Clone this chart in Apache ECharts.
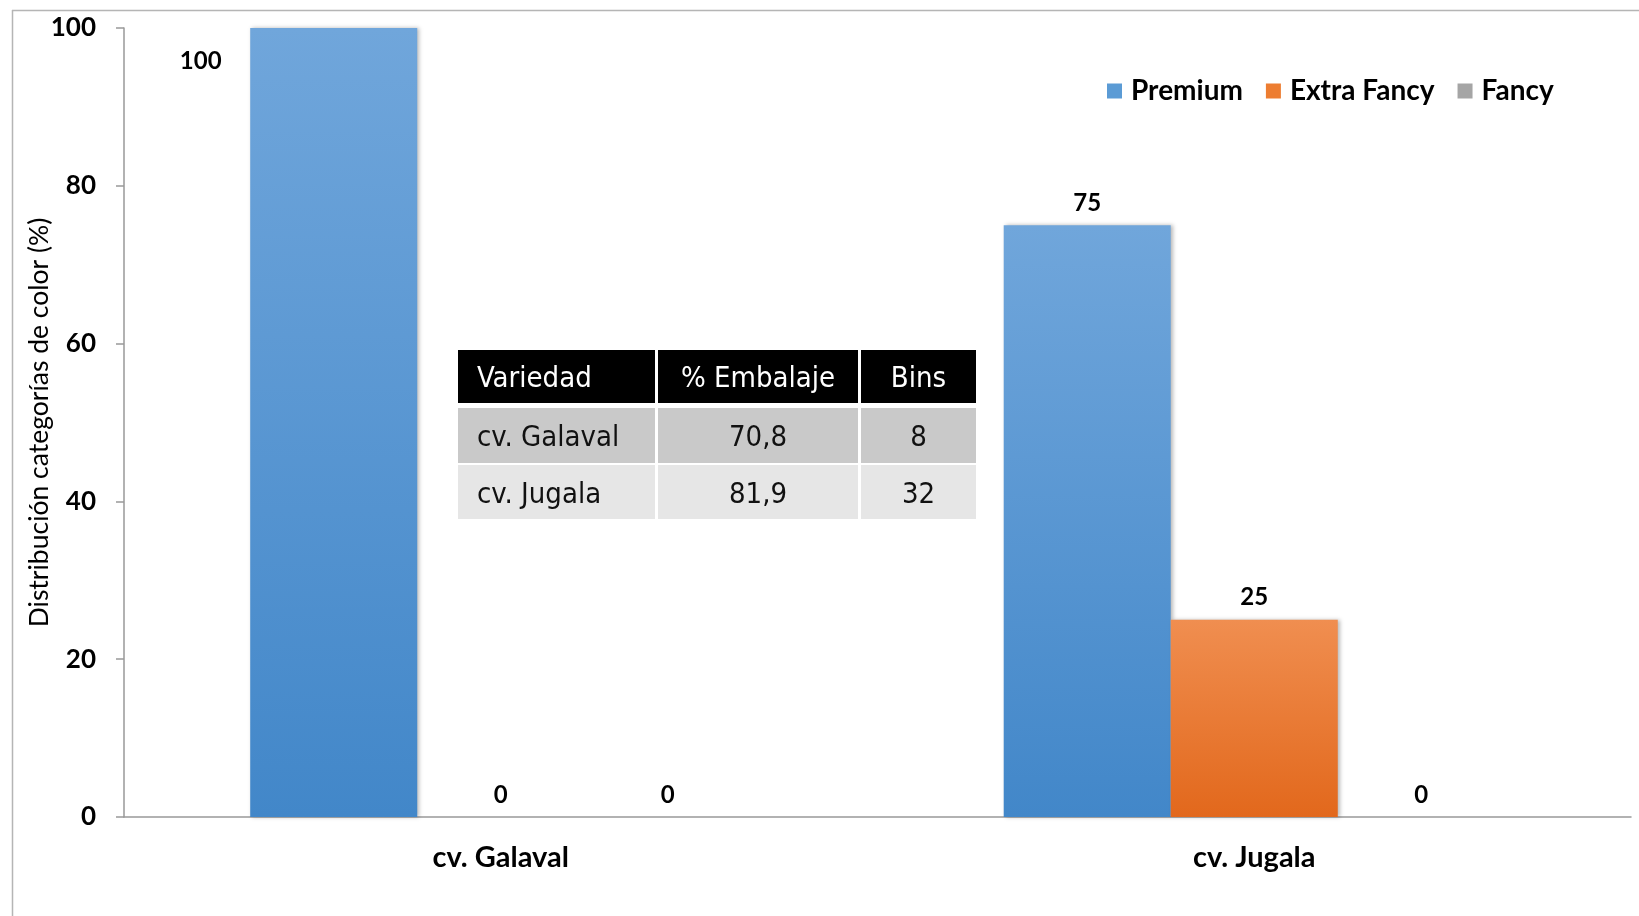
<!DOCTYPE html>
<html>
<head>
<meta charset="utf-8">
<script src="https://cdn.jsdelivr.net/npm/echarts@6/dist/echarts.min.js"></script>
<style>
html,body{margin:0;padding:0;background:#fff;}
#chart{width:1639px;height:916px;}
</style>
</head>
<body>
<div id="chart"></div>
<script>
// ---- data ----
const categories = ['cv. Galaval', 'cv. Jugala'];
const seriesNames = ['Premium', 'Extra Fancy', 'Fancy'];
const premium = [100, 75];
const extraFancy = [0, 25];
const fancy = [0, 0];
const yTicks = [0, 20, 40, 60, 80, 100];
const yAxisTitle = 'Distribución categorías de color (%)';
const tableHeader = ['Variedad', '% Embalaje', 'Bins'];
const tableRowGalaval = ['cv. Galaval', '70,8', '8'];
const tableRowJugala = ['cv. Jugala', '81,9', '32'];

// ---- chart ----
const chart = echarts.init(document.getElementById('chart'));
const FONT = 'Lato, "Open Sans", "Liberation Sans", sans-serif';
const TFONT = '"Liberation Sans Narrow", "DejaVu Sans Condensed", "Roboto", sans-serif';

function grad(top, bottom) {
  return new echarts.graphic.LinearGradient(0, 0, 0, 1, [
    {offset: 0, color: top}, {offset: 1, color: bottom}
  ]);
}
const colors = [grad('#70a6db', '#4287c9'), grad('#f08e50', '#e2681c'), grad('#b4b4b4', '#929292')];
const legendColors = ['#5b9bd5', '#ed7d31', '#a5a5a5'];

const labelStyle = {show: true, position: 'top', distance: 10, color: '#000', fontFamily: FONT, fontWeight: 'bold', fontSize: 24};
const shadow = {shadowColor: 'rgba(0,0,0,0.28)', shadowBlur: 4, shadowOffsetX: 2, shadowOffsetY: 0};

const seriesData = [
  premium.map((v, i) => i === 0 ? {value: v, label: {offset: [-133, 55]}} : v),
  extraFancy,
  fancy
];

// table graphics
const colX = [458, 658, 861, 979];
const rowY = [350, 408, 465, 521];
const rowFill = ['#000000', '#c9c9c9', '#e6e6e6'];
const rowText = ['#ffffff', '#111111', '#111111'];
const rows = [tableHeader, tableRowGalaval, tableRowJugala];
const tableGraphics = [];
rows.forEach((row, r) => {
  row.forEach((cell, c) => {
    const x0 = colX[c];
    const x1 = colX[c + 1] - 3;
    const y0 = rowY[r];
    const y1 = rowY[r + 1] - (r === 0 ? 5 : 2);
    tableGraphics.push({
      type: 'rect', shape: {x: x0, y: y0, width: x1 - x0, height: y1 - y0},
      style: {fill: rowFill[r]}, z: 10
    });
    tableGraphics.push({
      type: 'text', z: 11,
      x: c === 0 ? x0 + 19 : (x0 + x1) / 2,
      y: (y0 + y1) / 2 + 3,
      style: {text: cell, fill: rowText[r], font: '29px ' + TFONT,
        align: c === 0 ? 'left' : 'center', verticalAlign: 'middle'}
    });
  });
});

const option = {
  backgroundColor: '#ffffff',
  animation: false,
  grid: {left: 124, right: 8, top: 28, bottom: 99, containLabel: false},
  legend: {
    data: seriesNames.map((n, i) => ({name: n, itemStyle: {color: legendColors[i]}})),
    left: 1102, top: 72, itemWidth: 15, itemHeight: 15, itemGap: 23,
    icon: 'rect',
    textStyle: {fontFamily: FONT, fontWeight: 'bold', fontSize: 28, color: '#000', padding: [0, 0, 0, 4]}
  },
  xAxis: {
    type: 'category', data: categories,
    axisLine: {lineStyle: {color: '#999', width: 1.5}},
    axisTick: {show: false},
    axisLabel: {color: '#000', fontFamily: FONT, fontWeight: 'bold', fontSize: 29, margin: 26}
  },
  yAxis: {
    type: 'value', min: yTicks[0], max: yTicks[yTicks.length - 1], interval: 20,
    name: yAxisTitle, nameLocation: 'middle', nameGap: 71, nameRotate: 90,
    nameMoveOverlap: false,
    nameTextStyle: {color: '#000', fontFamily: FONT, fontSize: 26.5, fontWeight: 'normal'},
    axisLine: {show: true, lineStyle: {color: '#999', width: 1.5}},
    axisTick: {show: true, length: 8, lineStyle: {color: '#999', width: 1.5}},
    splitLine: {show: false},
    axisLabel: {color: '#000', fontFamily: FONT, fontWeight: 'bold', fontSize: 26, margin: 28}
  },
  series: seriesNames.map((n, i) => ({
    name: n, type: 'bar', data: seriesData[i],
    barGap: '0%', barCategoryGap: '33.5%',
    itemStyle: Object.assign({color: colors[i]}, shadow),
    label: labelStyle
  })),
  graphic: [
    {type: 'line', shape: {x1: 12.5, y1: 10, x2: 12.5, y2: 916}, style: {stroke: '#b5b5b5', lineWidth: 1.5}},
    {type: 'line', shape: {x1: 12, y1: 10.5, x2: 1639, y2: 10.5}, style: {stroke: '#b5b5b5', lineWidth: 1.5}}
  ].concat(tableGraphics)
};
chart.setOption(option);
</script>
</body>
</html>
